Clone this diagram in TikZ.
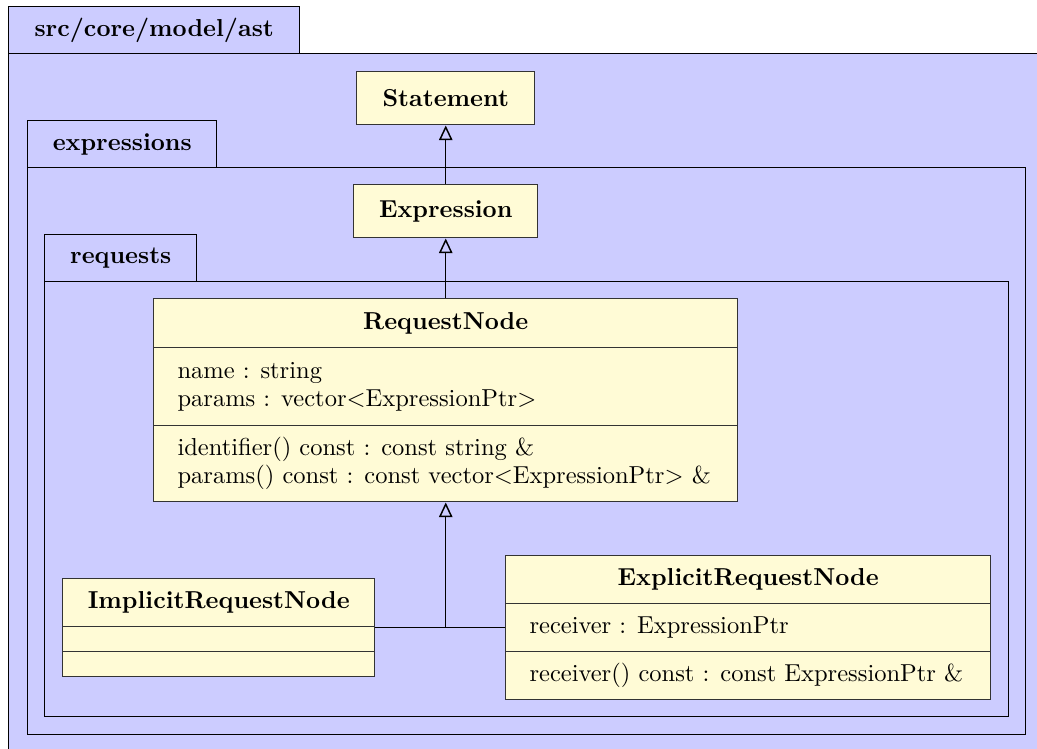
\documentclass[tikz,border=0pt]{standalone}
\usetikzlibrary{arrows.meta}
\definecolor{pkgblue}{RGB}{204,204,255}
\definecolor{clsyellow}{RGB}{255,251,214}
\begin{document}
\begin{tikzpicture}[x=0.408pt,y=-0.408pt,
  bx/.style n args={4}{anchor=north west, at={(#1,#2)},
    minimum width={(#3-#1)*0.408pt}, minimum height={(#4-#2)*0.408pt}},
  pkg/.style={draw=black, fill=pkgblue, line width=0.6pt, inner sep=0pt},
  cls/.style={draw=black!80, fill=clsyellow, line width=0.6pt, inner sep=0pt},
  hdr/.style={font=\bfseries, inner sep=0pt},
  txt/.style={align=left, inner sep=0pt, font=\fontsize{10}{11.4}\selectfont},
  conn/.style={draw=black, line width=0.6pt},
  inh/.style={conn, -{Triangle[open,length=6pt,width=5.5pt]}}]
\useasboundingbox (0,0) rectangle (1037,749);
\clip (0,0) rectangle (1037,749);

% outer package
\node[pkg, bx={8}{53}{1045}{755}] (ast) {};
\node[pkg, bx={8}{6}{299}{53}] (asttab) {};
\node[hdr] (asttablbl) at (asttab.center) {src/core/model/ast};
\node[cls, bx={356}{71}{534}{124}] (stmt) {};
\node[hdr] (stmtlbl) at (stmt.center) {Statement};

% expressions package
\node[pkg, bx={27}{167}{1025}{734}] (exprs) {};
\node[pkg, bx={27}{120}{216}{167}] (exprstab) {};
\node[hdr] (exprstablbl) at (exprstab.center) {expressions};
\node[cls, bx={353}{184}{537}{237}] (expr) {};
\node[hdr] (exprlbl) at (expr.center) {Expression};

% requests package
\node[pkg, bx={44}{281}{1008}{716}] (reqs) {};
\node[pkg, bx={44}{234}{196}{281}] (reqstab) {};
\node[hdr] (reqstablbl) at (reqstab.center) {requests};

% RequestNode
\node[cls, bx={153}{298}{737}{347}] (rnhead) {};
\node[hdr] (rnheadlbl) at (rnhead.center) {RequestNode};
\node[cls, bx={153}{347}{737}{425}] (rnattr) {};
\node[cls, bx={153}{425}{737}{501}] (rnops) {};
\node[txt, anchor=west] (rnattrtxt) at ([xshift=9.8pt]rnattr.west)
  {name : string\\params : vector$<$ExpressionPtr$>$};
\node[txt, anchor=west] (rnopstxt) at ([xshift=9.8pt]rnops.west)
  {identifier() const : const string \&\\params() const : const vector$<$ExpressionPtr$>$ \&};

% ImplicitRequestNode
\node[cls, bx={62}{578}{374}{626}] (irhead) {};
\node[hdr] (irheadlbl) at (irhead.center) {ImplicitRequestNode};
\node[cls, bx={62}{626}{374}{651}] (irattr) {};
\node[cls, bx={62}{651}{374}{676}] (irops) {};

% ExplicitRequestNode
\node[cls, bx={505}{555}{990}{603}] (erhead) {};
\node[hdr] (erheadlbl) at (erhead.center) {ExplicitRequestNode};
\node[cls, bx={505}{603}{990}{651}] (erattr) {};
\node[cls, bx={505}{651}{990}{699}] (erops) {};
\node[txt, anchor=west] (erattrtxt) at ([xshift=9.8pt]erattr.west) {receiver : ExpressionPtr};
\node[txt, anchor=west] (eropstxt) at ([xshift=9.8pt]erops.west) {receiver() const : const ExpressionPtr \&};

% connectors
\coordinate (join) at (rnops.south |- irhead.south east);
\draw[conn] (irhead.south east) -- (join) -- (join -| erattr.west);
\draw[inh] (join) -- (rnops.south);
\draw[inh] (rnhead.north) -- (expr.south);
\draw[inh] (expr.north) -- (expr.north |- stmt.south);
\end{tikzpicture}
\end{document}
